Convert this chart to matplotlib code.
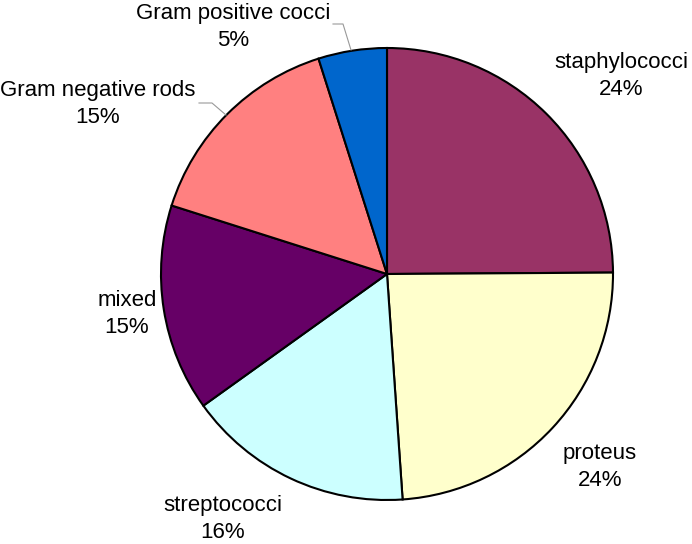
import matplotlib
matplotlib.use("Agg")
import matplotlib.pyplot as plt

categories = ["staphylococci", "proteus", "streptococci", "mixed",
              "Gram negative rods", "Gram positive cocci"]
values = [24.9, 24.0, 16.2, 14.8, 15.2, 4.9]
pct_labels = ["24%", "24%", "16%", "15%", "15%", "5%"]
colors = ["#993366", "#FFFFCC", "#CCFFFF", "#660066", "#FF8080", "#0066CC"]

W, H = 692, 544
cx, cy, R = 387, 274, 226

def d(px, py):
    return ((px - cx) / R, (cy - py) / R)

fig = plt.figure(figsize=(W / 100, H / 100), dpi=100)
ax = fig.add_axes([0, 0, 1, 1])
ax.pie(values, colors=colors, startangle=90, counterclock=False, radius=1,
       wedgeprops=dict(edgecolor="black", linewidth=1.5))
ax.set_xlim((0 - cx) / R, (W - cx) / R)
ax.set_ylim((cy - H) / R, cy / R)
ax.set_aspect("auto")
ax.axis("off")

label_pos = [(621, 76), (600, 467), (223, 519), (127, 314), (98, 104), (233, 27)]
for cat, pct, (px, py) in zip(categories, pct_labels, label_pos):
    x, y = d(px, py)
    ax.text(x, y, f"{cat}\n{pct}", ha="center", va="center",
            fontsize=16, family="Liberation Sans", linespacing=1.38)

# leader lines
for pts in [[(333, 24), (343, 24), (351, 50)], [(199, 103), (212, 103), (226, 115)]]:
    xs, ys = zip(*[d(*p) for p in pts])
    ax.plot(xs, ys, color="#999999", linewidth=0.8)

fig.savefig("out.png", dpi=100)
